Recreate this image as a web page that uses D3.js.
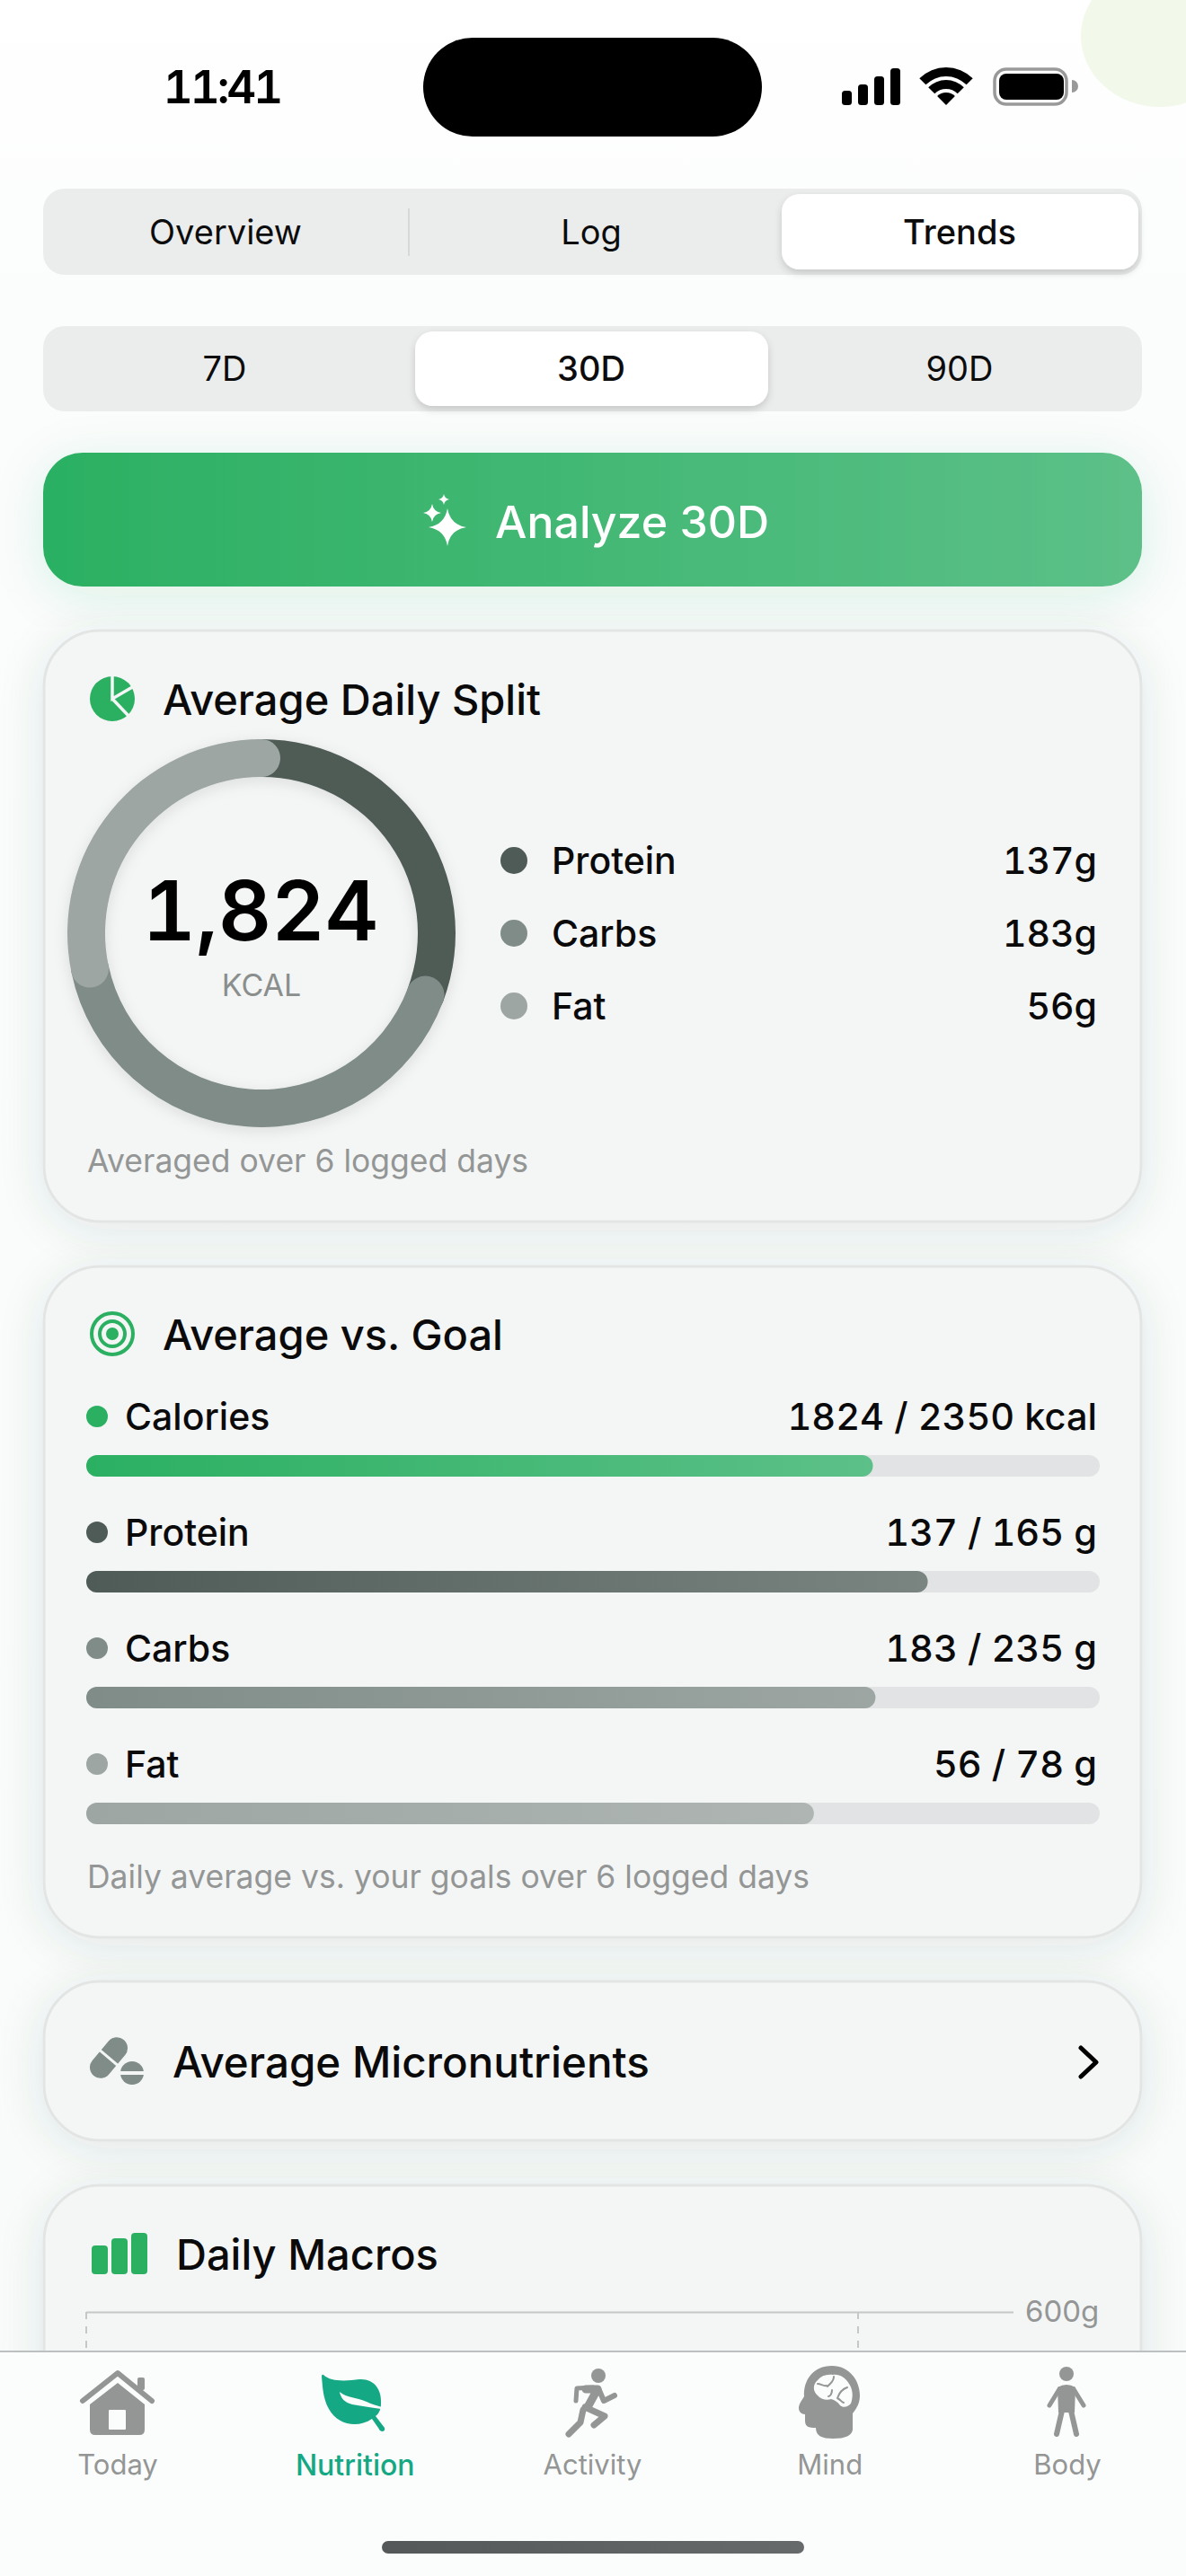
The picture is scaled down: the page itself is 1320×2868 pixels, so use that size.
<!DOCTYPE html>
<html>
<head>
<meta charset="utf-8">
<title>Nutrition Trends</title>
<script src="https://cdn.jsdelivr.net/npm/d3@7"></script>
<style>
html, body { margin: 0; padding: 0; background: #fff; }
svg { display: block; }
text { font-family: Inter, "Noto Sans", sans-serif; }
text.num { font-variant-numeric: tabular-nums; font-feature-settings: "tnum" 1; }
</style>
</head>
<body>
<div id="app"></div>
<script>
// values
var macroNames  = ["Protein", "Carbs", "Fat"];
var macroGrams  = [137, 183, 56];
var kcalPerGram = [4, 4, 9];
var macroColors = ["#4f5b57", "#7f8c87", "#9da6a3"];
var totalKcal   = 1824;

var goalNames  = ["Calories", "Protein", "Carbs", "Fat"];
var goalValues = [1824, 137, 183, 56];
var goalTotals = [2350, 165, 235, 78];
var goalUnits  = ["kcal", "g", "g", "g"];
var goalColors = [["#2bb062", "#5cc088"], ["#4f5b57", "#7a8581"], ["#7f8c87", "#9da6a3"], ["#9da6a3", "#aeb5b2"]];
var goalDots   = ["#2bb062", "#4f5b57", "#7f8c87", "#9da6a3"];

var mainTabs  = ["Overview", "Log", "Trends"];
var rangeTabs = ["7D", "30D", "90D"];
var navTabs   = ["Today", "Nutrition", "Activity", "Mind", "Body"];

var macroAxisTicks = [600];
var dayGuides = [0, 30];

var W = 1320, H = 2868;
var GREEN = "#2bb062", GRAY = "#939695", INK = "#0a0a0a", TEAL = "#14a884", NAVBG = "#fbfcfc";

var svg = d3.select("#app").append("svg")
	.attr("width", W)
	.attr("height", H)
	.attr("viewBox", "0 0 " + W + " " + H);

var defs = svg.append("defs");

function gradient( id, c0, c1 ) {
	var g = defs.append("linearGradient").attr("id", id)
		.attr("x1", 0).attr("y1", 0).attr("x2", 1).attr("y2", 0);
	g.append("stop").attr("offset", 0).attr("stop-color", c0);
	g.append("stop").attr("offset", 1).attr("stop-color", c1);
}

function shadow( id, dy, blur, color, op ) {
	defs.append("filter").attr("id", id)
		.attr("x", "-30%").attr("y", "-30%").attr("width", "160%").attr("height", "160%")
		.append("feDropShadow")
		.attr("dx", 0).attr("dy", dy).attr("stdDeviation", blur)
		.attr("flood-color", color).attr("flood-opacity", op);
}

gradient("bgGreen", "#2bb062", "#5cc088");
goalColors.forEach(function(c, i) { gradient("goal" + i, c[0], c[1]); });
gradient("homeBar", "#555858", "#666a6a");
shadow("cardShadow", 8, 24, "#3c5a50", 0.12);
shadow("tabShadow", 4, 4, "#000", 0.16);
shadow("btnShadow", 10, 26, "#2bb062", 0.15);
shadow("ringShadow", 4, 8, "#000", 0.10);

var pageBg = defs.append("linearGradient").attr("id", "pageBg")
	.attr("x1", 0).attr("y1", 0).attr("x2", 0).attr("y2", 1);
pageBg.append("stop").attr("offset", 0).attr("stop-color", "#ffffff");
pageBg.append("stop").attr("offset", 0.12).attr("stop-color", "#fbfcfc");
pageBg.append("stop").attr("offset", 1).attr("stop-color", "#f9fafa");

svg.append("rect").attr("width", W).attr("height", H).attr("fill", "url(#pageBg)");

function label( parent, x, y, str, size, weight, color, anchor ) {
	return parent.append("text")
		.attr("x", x)
		.attr("y", y)
		.attr("dy", "0.36em")
		.attr("font-size", size)
		.attr("font-weight", weight)
		.attr("fill", color)
		.attr("text-anchor", anchor || "start")
		.text(str);
}

function drawPath( parent, d, fill ) {
	return parent.append("path").attr("d", d).attr("fill", fill);
}

function strokePath( parent, d, color, width ) {
	return parent.append("path").attr("d", d)
		.attr("fill", "none")
		.attr("stroke", color)
		.attr("stroke-width", width)
		.attr("stroke-linecap", "round")
		.attr("stroke-linejoin", "round");
}

// status bar
svg.append("ellipse").attr("cx", 1291).attr("cy", 40).attr("rx", 88).attr("ry", 79).attr("fill", "#f2f8ea");
label(svg, 247, 97, "11:41", 51, 600, "#000", "middle").attr("class", "num").attr("letter-spacing", -3);
svg.append("rect").attr("x", 471).attr("y", 42).attr("width", 377).attr("height", 110).attr("rx", 55).attr("fill", "#000");

var signalBars = [16, 23, 32, 41];
svg.selectAll("rect.signal").data(signalBars).enter().append("rect")
	.attr("class", "signal")
	.attr("x", function(d, i) { return 937 + i * 18; })
	.attr("y", function(d) { return 117 - d; })
	.attr("width", 11)
	.attr("height", function(d) { return d; })
	.attr("rx", 3.5)
	.attr("fill", "#000");

var wifiBands = [[0, 14], [18, 28], [32, 42]];
var wifiArc = d3.arc()
	.innerRadius(function(d) { return d[0]; })
	.outerRadius(function(d) { return d[1]; })
	.startAngle(-Math.PI / 4)
	.endAngle(Math.PI / 4);
svg.append("g").attr("transform", "translate(1053,117)")
	.selectAll("path").data(wifiBands).enter().append("path")
	.attr("d", wifiArc)
	.attr("fill", "#000");

svg.append("rect").attr("x", 1107).attr("y", 77).attr("width", 80).attr("height", 39).attr("rx", 13)
	.attr("fill", "#fff").attr("stroke", "#999").attr("stroke-width", 3.5);
svg.append("rect").attr("x", 1112).attr("y", 82).attr("width", 72).attr("height", 29).attr("rx", 8).attr("fill", "#000");
svg.append("path").attr("d", "M1193,89 A7,7 0 0 1 1193,103 Z").attr("fill", "#999");

// segmented controls
function segmented( names, y0, h, selected, sel, centers ) {
	svg.append("rect").attr("x", 48).attr("y", y0).attr("width", 1223).attr("height", h).attr("rx", 24).attr("fill", "#ebeded");
	svg.append("rect").attr("x", sel[0]).attr("y", y0 + 6).attr("width", sel[1] - sel[0]).attr("height", h - 12)
		.attr("rx", 20).attr("fill", "#fff").attr("filter", "url(#tabShadow)");
	names.forEach(function(n, i) {
		label(svg, centers[i], y0 + h / 2, n, 38, i == selected ? 500 : 400, "#0c0c0c", "middle");
	});
}
segmented(mainTabs, 210, 96, 2, [870, 1267], [251, 658, 1068]);
svg.append("rect").attr("x", 454).attr("y", 232).attr("width", 2).attr("height", 53).attr("fill", "#d6d9d9");
segmented(rangeTabs, 363, 95, 1, [462, 855], [250, 658, 1068]);

// analyze button
svg.append("rect").attr("x", 48).attr("y", 504).attr("width", 1223).attr("height", 149).attr("rx", 44)
	.attr("fill", "url(#bgGreen)").attr("filter", "url(#btnShadow)");
function star( cx, cy, rx, ry ) {
	var k = 0.14;
	return "M" + cx + "," + (cy - ry)
		+ "Q" + (cx + rx * k) + "," + (cy - ry * k) + " " + (cx + rx) + "," + cy
		+ "Q" + (cx + rx * k) + "," + (cy + ry * k) + " " + cx + "," + (cy + ry)
		+ "Q" + (cx - rx * k) + "," + (cy + ry * k) + " " + (cx - rx) + "," + cy
		+ "Q" + (cx - rx * k) + "," + (cy - ry * k) + " " + cx + "," + (cy - ry) + "Z";
}
drawPath(svg, star(498, 587, 21, 21), "#fff");
drawPath(svg, star(481, 571, 10, 10), "#fff");
drawPath(svg, star(494, 556, 6, 6), "#fff");
label(svg, 551, 581, "Analyze 30D", 50, 500, "#fff");

// cards
function card( y0, h ) {
	svg.append("rect").attr("x", 49).attr("y", y0).attr("width", 1221).attr("height", h).attr("rx", 62)
		.attr("fill", "#f4f5f5").attr("stroke", "#e3e5e5").attr("stroke-width", 3)
		.attr("filter", "url(#cardShadow)");
}

// Average Daily Split
card(702, 658);
var pieIcon = svg.append("g").attr("transform", "translate(125,778)");
pieIcon.append("circle").attr("r", 25).attr("fill", GREEN);
pieIcon.append("path").attr("d", "M0,-26 V0 L24,-14 M0,0 L20,21").attr("fill", "none").attr("stroke", "#f4f5f5").attr("stroke-width", 3.5);
label(svg, 181, 779, "Average Daily Split", 47, 500, INK);

var ringR = 195, ringW = 42, capAngle = (ringW / 2) / ringR;
var ringKcal = macroGrams.map(function(g, i) { return g * kcalPerGram[i]; });
var pie = d3.pie().sort(null)(ringKcal);
var ringArc = d3.arc()
	.innerRadius(ringR - ringW / 2)
	.outerRadius(ringR + ringW / 2)
	.cornerRadius(ringW / 2)
	.startAngle(function(d) { return d.startAngle - capAngle; })
	.endAngle(function(d) { return d.endAngle + capAngle; });
var ring = svg.append("g").attr("transform", "translate(291,1039)").attr("filter", "url(#ringShadow)");
ring.selectAll("path").data(pie).enter().append("path")
	.attr("d", ringArc)
	.attr("fill", function(d, i) { return macroColors[i]; });

label(svg, 290, 1014, d3.format(",")(totalKcal), 92, 600, "#000", "middle").attr("class", "num");
label(svg, 291, 1097, "KCAL", 34, 400, "#8a8f8d", "middle");

var legendY = d3.scalePoint().domain(macroNames).range([958, 1120]);
macroNames.forEach(function(n, i) {
	svg.append("circle").attr("cx", 572).attr("cy", legendY(n)).attr("r", 15).attr("fill", macroColors[i]);
	label(svg, 614, legendY(n), n, 41, 500, INK);
	label(svg, 1221, legendY(n), macroGrams[i] + "g", 41, 500, INK, "end").attr("class", "num");
});
label(svg, 97, 1292, "Averaged over 6 logged days", 35.5, 400, GRAY);

// Average vs. Goal
card(1410, 747);
var targetIcon = svg.append("g").attr("transform", "translate(125,1485)").attr("fill", "none").attr("stroke", GREEN).attr("stroke-width", 4);
targetIcon.append("circle").attr("r", 23);
targetIcon.append("circle").attr("r", 14);
targetIcon.append("circle").attr("r", 5).attr("fill", GREEN);
label(svg, 181, 1486, "Average vs. Goal", 47, 500, INK);

var goalX = d3.scaleLinear().domain([0, 1]).range([96, 1224]);
var goalRowY = d3.scalePoint().domain(goalNames).range([1577, 1964]);
goalNames.forEach(function(n, i) {
	var y = goalRowY(n);
	svg.append("circle").attr("cx", 108).attr("cy", y).attr("r", 12).attr("fill", goalDots[i]);
	label(svg, 139, y, n, 41, 500, INK);
	label(svg, 1221, y, goalValues[i] + " / " + goalTotals[i] + " " + goalUnits[i], 41.5, 500, INK, "end").attr("class", "num");
	svg.append("rect").attr("x", goalX(0)).attr("y", y + 43).attr("width", goalX(1) - goalX(0)).attr("height", 24)
		.attr("rx", 12).attr("fill", "#e1e3e4");
	svg.append("rect").attr("x", goalX(0)).attr("y", y + 43).attr("width", goalX(goalValues[i] / goalTotals[i]) - goalX(0)).attr("height", 24)
		.attr("rx", 12).attr("fill", "url(#goal" + i + ")");
});
label(svg, 97, 2089, "Daily average vs. your goals over 6 logged days", 35.5, 400, GRAY);

// Average Micronutrients
card(2206, 177);
var pills = svg.append("g");
pills.append("rect").attr("x", -12).attr("y", -26).attr("width", 24).attr("height", 52).attr("rx", 12)
	.attr("transform", "translate(121,2291) rotate(40)").attr("fill", "#7f8c87");
pills.append("line").attr("x1", 108).attr("y1", 2280).attr("x2", 134).attr("y2", 2302).attr("stroke", "#f4f5f5").attr("stroke-width", 3);
pills.append("circle").attr("cx", 147).attr("cy", 2308).attr("r", 13).attr("fill", "#7f8c87");
pills.append("line").attr("x1", 133).attr("y1", 2308).attr("x2", 161).attr("y2", 2308).attr("stroke", "#f4f5f5").attr("stroke-width", 4);
label(svg, 192, 2296, "Average Micronutrients", 47.5, 500, INK);
strokePath(svg, "M1203,2280 L1220,2296 L1203,2312", "#000", 5);

// Daily Macros, runs on under the tab bar
card(2433, 700);
var macroBars = [32, 40, 46];
svg.selectAll("rect.miniBar").data(macroBars).enter().append("rect")
	.attr("class", "miniBar")
	.attr("x", function(d, i) { return 102 + i * 22; })
	.attr("y", function(d) { return 2532 - d; })
	.attr("width", 18)
	.attr("height", function(d) { return d; })
	.attr("rx", 4)
	.attr("fill", GREEN);
label(svg, 196, 2510, "Daily Macros", 47, 500, INK);

var macroY = d3.scaleLinear().domain([0, 600]).range([2974, 2574]);
var macroX = d3.scaleLinear().domain(dayGuides).range([96, 955]);

svg.append("g").selectAll("line").data(dayGuides).enter().append("line")
	.attr("x1", macroX).attr("x2", macroX)
	.attr("y1", 2574).attr("y2", 2974)
	.attr("stroke", "#c4c8c8").attr("stroke-width", 2).attr("stroke-dasharray", "8 8");

var macroAxis = svg.append("g")
	.attr("transform", "translate(96,0)")
	.call(d3.axisRight(macroY).tickValues(macroAxisTicks).tickSize(1032).tickPadding(13).tickFormat(function(d) { return d + "g"; }));
macroAxis.select(".domain").remove();
macroAxis.selectAll("line").attr("stroke", "#c4c8c8").attr("stroke-width", 2);
macroAxis.selectAll("text").attr("font-size", 33).attr("font-family", "Inter").attr("fill", GRAY);

// tab bar
svg.append("rect").attr("y", 2618).attr("width", W).attr("height", H - 2618).attr("fill", NAVBG);
svg.append("rect").attr("y", 2617).attr("width", W).attr("height", 2).attr("fill", "#bdc0c0");

var navX = d3.scalePoint().domain(navTabs).range([131, 1188]);
navTabs.forEach(function(n, i) {
	label(svg, navX(n), 2744, n, i == 1 ? 32 : 31, i == 1 ? 500 : 400, i == 1 ? TEAL : GRAY, "middle");
});

// house
var house = svg.append("g");
drawPath(house, "M100,2677 L131,2653 L161,2677 V2705 Q161,2711 155,2711 H106 Q100,2711 100,2705 Z", GRAY);
strokePath(house, "M92,2673 L131,2642 L169,2673", GRAY, 6);
house.append("rect").attr("x", 153).attr("y", 2647).attr("width", 8).attr("height", 14).attr("rx", 2).attr("fill", GRAY);
house.append("rect").attr("x", 121).attr("y", 2683).attr("width", 19).attr("height", 22).attr("rx", 1).attr("fill", NAVBG);

// leaf
drawPath(svg, "M360,2644 C368,2652 385,2651 400,2649 C416,2648 425,2660 424,2676 C424,2682 422,2687 418,2690 L428,2703 Q429,2707 425,2707 Q422,2706 421,2703 L414,2693 C398,2704 376,2700 366,2682 C359,2670 359,2655 358,2646 Q358,2643 360,2644 Z", TEAL);
drawPath(svg, "M378,2663 C386,2670 398,2669 408,2674 C414,2677 420,2678 425,2680 L424,2682 C412,2680 402,2679 392,2677 C384,2675 379,2670 378,2663 Z", NAVBG);

// runner
var runner = svg.append("g");
runner.append("circle").attr("cx", 666).attr("cy", 2645).attr("r", 8).attr("fill", GRAY);
strokePath(runner, "M652,2660 L665,2660 L654,2680", GRAY, 9);
strokePath(runner, "M641,2673 L642,2659 L660,2658", GRAY, 5);
strokePath(runner, "M666,2659 L672,2673 L684,2667", GRAY, 6);
strokePath(runner, "M651,2680 L673,2690 L661,2700", GRAY, 7);
strokePath(runner, "M649,2683 L646,2697 L633,2710", GRAY, 7);

// brain head
drawPath(svg, "M926,2634 C945,2634 957,2650 957,2667 C957,2676 953,2682 949,2687 V2705 Q948,2715 927,2715 C915,2715 908,2712 908,2703 C900,2703 896,2702 896,2695 V2688 C892,2688 889,2685 889,2681 C889,2676 893,2672 895,2668 C894,2650 905,2634 926,2634 Z", GRAY);
drawPath(svg, "M910,2650 C914,2645 920,2643 927,2644 C934,2643 941,2647 945,2654 C949,2660 950,2668 947,2676 C944,2680 938,2681 935,2678 C932,2674 929,2672 925,2671 C920,2673 913,2671 910,2667 C905,2663 904,2655 910,2650 Z", NAVBG);
strokePath(svg, "M910,2654 C914,2654 916,2657 920,2656 M928,2646 C928,2652 924,2653 921,2657 M926,2661 C926,2665 924,2668 922,2668 M943,2658 C937,2660 934,2664 932,2670 C936,2672 936,2674 939,2675", GRAY, 2);

// body
var body = svg.append("g");
body.append("circle").attr("cx", 1187).attr("cy", 2643).attr("r", 8).attr("fill", GRAY);
drawPath(body, "M1177,2658 Q1187,2652 1197,2658 L1196,2686 H1178 Z", GRAY);
strokePath(body, "M1179,2660 L1168,2678", GRAY, 5);
strokePath(body, "M1195,2660 L1206,2678", GRAY, 5);
strokePath(body, "M1182,2684 L1176,2710", GRAY, 6);
strokePath(body, "M1192,2684 L1198,2710", GRAY, 6);

// home indicator
svg.append("rect").attr("x", 425).attr("y", 2829).attr("width", 470).attr("height", 14).attr("rx", 7).attr("fill", "url(#homeBar)");
</script>
</body>
</html>
